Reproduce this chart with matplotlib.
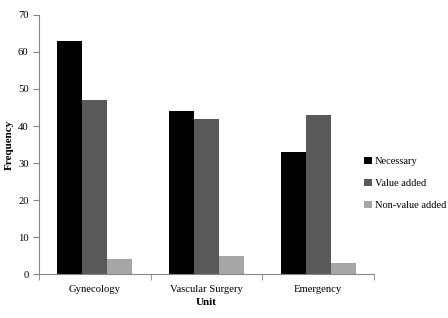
import matplotlib.pyplot as plt
import numpy as np

units = ["Gynecology", "Vascular Surgery", "Emergency"]
series_names = ["Necessary", "Value added", "Non-value added"]
necessary = [63, 44, 33]
value_added = [47, 42, 43]
non_value_added = [4, 5, 3]

plt.rcParams["font.family"] = ["Liberation Serif", "DejaVu Serif"]

fig = plt.figure(figsize=(4.48, 3.18), dpi=100)
ax = fig.add_axes([0.087, 0.138, 0.748, 0.815])

colors = ["#000000", "#595959", "#a6a6a6"]
width = 0.223
x = np.arange(len(units))
for i, (name, vals) in enumerate(zip(series_names, [necessary, value_added, non_value_added])):
    ax.bar(x + (i - 1) * width, vals, width, color=colors[i], label=name)

ax.set_xlim(-0.5, len(units) - 0.5)
ax.set_ylim(0, 70)
ax.set_yticks(range(0, 71, 10))
ax.set_xticks(x)
ax.set_xticklabels(units, fontsize=7.7)
ax.set_xticks(np.arange(-0.5, len(units), 1), minor=True)
ax.tick_params(axis="x", which="major", length=0, pad=8)
ax.tick_params(axis="x", which="minor", length=4, color="#868686")
ax.tick_params(axis="y", length=4, color="#868686", labelsize=7.7)

for side in ["top", "right"]:
    ax.spines[side].set_visible(False)
for side in ["left", "bottom"]:
    ax.spines[side].set_color("#868686")

ax.set_xlabel("Unit", fontsize=8, fontweight="bold", labelpad=3)
ax.set_ylabel("Frequency", fontsize=8, fontweight="bold")
ax.yaxis.set_label_coords(-0.076, 0.5)

fig.legend(loc="center left", bbox_to_anchor=(0.813, 0.423), frameon=False,
           fontsize=7.5, handlelength=0.7, handleheight=0.7, handletextpad=0.3,
           labelspacing=1.2, borderpad=0, borderaxespad=0)

fig.savefig("out.png", dpi=100)
